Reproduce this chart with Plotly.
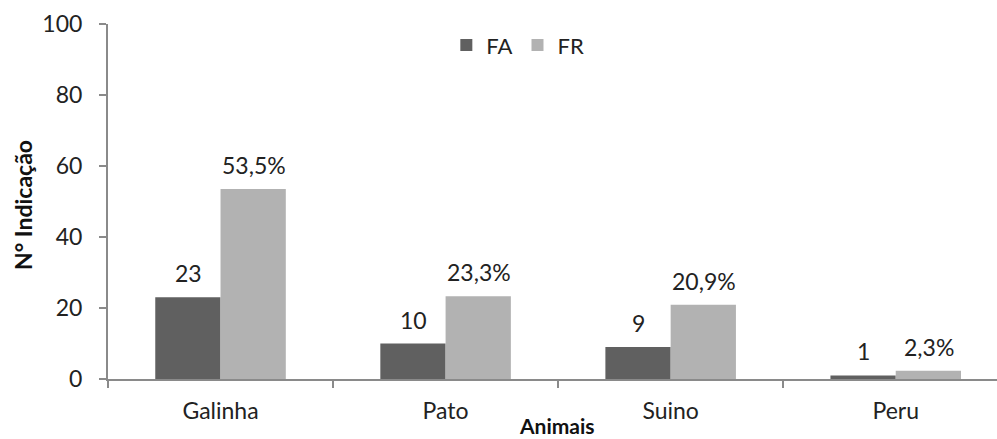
import plotly.graph_objects as go

# Animal preference data
animais = ["Galinha", "Pato", "Suino", "Peru"]
fa_values = [23, 10, 9, 1]            # frequência absoluta
fr_values = [53.5, 23.3, 20.9, 2.3]   # frequência relativa (%)
fa_labels = ["23", "10", "9", "1"]
fr_labels = ["53,5%", "23,3%", "20,9%", "2,3%"]

FONT = "Lato"
DARK = "#606060"
LIGHT = "#b2b2b2"
AXIS = "#8a8a8a"

fig = go.Figure()
fig.add_trace(go.Bar(x=animais, y=fa_values, name="FA", marker=dict(color=DARK, line=dict(width=0))))
fig.add_trace(go.Bar(x=animais, y=fr_values, name="FR", marker=dict(color=LIGHT, line=dict(width=0))))

# value labels above each bar
for i, (v, t) in enumerate(zip(fa_values, fa_labels)):
    fig.add_annotation(x=i, y=v, xshift=-32, yshift=24, text=t, showarrow=False,
                       xref="x", yref="y", font=dict(family=FONT, size=23, color="#222"))
for i, (v, t) in enumerate(zip(fr_values, fr_labels)):
    fig.add_annotation(x=i, y=v, xshift=33, yshift=24, text=t, showarrow=False,
                       xref="x", yref="y", font=dict(family=FONT, size=23, color="#222"))

# axis titles
fig.add_annotation(x=(557 - 108) / 889, y=-0.172, xref="paper", yref="paper",
                   text="<b>Animais</b>", showarrow=False, yanchor="bottom",
                   font=dict(family=FONT, size=21, color="#111"))
fig.add_annotation(x=-(108 - 23) / 889, y=0.49, xref="paper", yref="paper",
                   text="<b>N° Indicação</b>", showarrow=False, textangle=-90,
                   xanchor="center", yanchor="middle",
                   font=dict(family=FONT, size=23, color="#111"))

fig.update_layout(
    width=997, height=439,
    margin=dict(l=108, r=0, t=24, b=60),
    paper_bgcolor="white", plot_bgcolor="white",
    barmode="group", bargap=0.42, bargroupgap=0,
    font=dict(family=FONT, size=23, color="#222"),
    showlegend=True,
    legend=dict(orientation="h", x=0.461, y=0.94, xanchor="center", yanchor="middle",
                font=dict(family=FONT, size=22, color="#222"), itemwidth=30,
                bgcolor="rgba(0,0,0,0)"),
    xaxis=dict(range=[-0.5, 3.45], showgrid=False, showline=True, linecolor=AXIS, linewidth=2,
               ticks="outside", tickson="boundaries", ticklen=7, tickcolor=AXIS, tickwidth=2,
               ticklabelstandoff=10,
               tickfont=dict(family=FONT, size=23, color="#222"), zeroline=False),
    yaxis=dict(range=[0, 100], dtick=20, showgrid=False, showline=True, linecolor=AXIS, linewidth=2,
               ticks="outside", ticklen=7, tickcolor=AXIS, tickwidth=2,
               ticklabelstandoff=12,
               tickfont=dict(family=FONT, size=23, color="#222"), zeroline=False),
)

fig.write_html("out.html")
